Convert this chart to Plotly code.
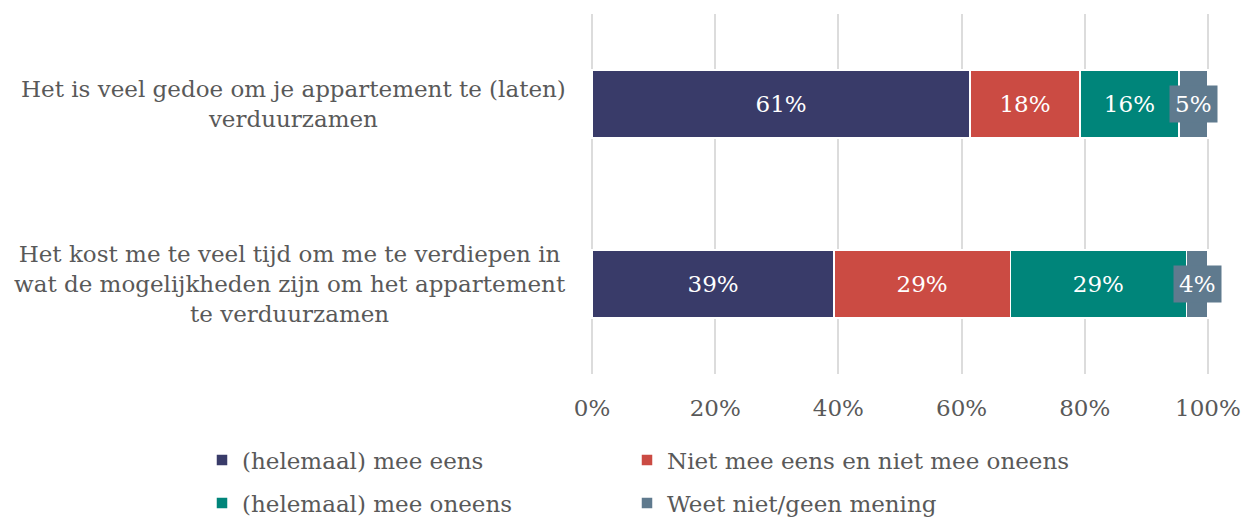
import plotly.graph_objects as go

categories = [
    "Het is veel gedoe om je appartement te (laten)<br>verduurzamen",
    "Het kost me te veel tijd om me te verdiepen in<br>wat de mogelijkheden zijn om het appartement<br>te verduurzamen",
]
series_names = [
    "(helemaal) mee eens",
    "Niet mee eens en niet mee oneens",
    "(helemaal) mee oneens",
    "Weet niet/geen mening",
]
agree = [61.4, 39.3]
neutral = [17.8, 28.6]
disagree = [16.1, 28.6]
dontknow = [4.7, 3.5]
colors = ["#393b69", "#cb4b43", "#00857a", "#5f7a8e"]
tick_vals = [0, 20, 40, 60, 80, 100]
tick_text = ["0%", "20%", "40%", "60%", "80%", "100%"]

FONT = "DejaVu Serif"
FS = 23
GREY = "#595959"
series = [agree, neutral, disagree, dontknow]
ypos = [0, 1]
legend_ids = ["legend", "legend2", "legend3", "legend4"]

fig = go.Figure()
for i, (name, vals) in enumerate(zip(series_names, series)):
    show_text = i < 3
    fig.add_trace(go.Bar(
        y=ypos, x=vals, name=name, orientation="h",
        marker=dict(color=colors[i], line=dict(color="white", width=1.5)),
        width=0.38,
        text=[f"{v:.0f}%" for v in vals] if show_text else None,
        textposition="inside" if show_text else "none",
        insidetextanchor="middle",
        textfont=dict(color="white", size=FS, family=FONT),
        legend=legend_ids[i],
        hoverinfo="x+name",
    ))

# labels for the small last segment, drawn as boxed labels
for j in range(len(ypos)):
    start = agree[j] + neutral[j] + disagree[j]
    mid = start + dontknow[j] / 2
    fig.add_annotation(
        x=mid, y=ypos[j], xref="x", yref="y",
        text=f"{dontknow[j]:.0f}%", showarrow=False,
        bgcolor=colors[3], borderpad=5,
        font=dict(color="white", size=FS, family=FONT),
    )

# category labels, centered multi-line
for j, cat in enumerate(categories):
    fig.add_annotation(
        x=0, y=ypos[j], xref="x", yref="y",
        text=cat, showarrow=False, xanchor="right", xshift=-24,
        align="center",
        font=dict(color=GREY, size=FS, family=FONT),
    )

legend_pos = [(202, 460), (627, 460), (202, 503), (627, 503)]
legends = {}
for lid, (px, py) in zip(legend_ids, legend_pos):
    legends[lid] = dict(
        orientation="h", xref="container", yref="container",
        x=px / 1243, y=1 - py / 518, xanchor="left", yanchor="middle",
        font=dict(size=FS, color=GREY, family=FONT),
        bgcolor="rgba(0,0,0,0)",
    )

fig.update_layout(
    width=1243, height=518,
    barmode="stack",
    plot_bgcolor="white", paper_bgcolor="white",
    margin=dict(l=590, r=33, t=14, b=144, autoexpand=False),
    font=dict(family=FONT, size=FS, color=GREY),
    xaxis=dict(
        range=[-0.33, 100.33], tickvals=tick_vals, ticktext=tick_text,
        showgrid=True, gridcolor="#dcdcdc", gridwidth=2,
        zeroline=False, showline=False, ticks="",
        ticklabelstandoff=18,
        tickfont=dict(size=FS, color=GREY, family=FONT),
        automargin=False,
    ),
    yaxis=dict(
        range=[1.5, -0.5], showticklabels=False, showgrid=False,
        zeroline=False, showline=False, automargin=False,
    ),
    showlegend=True,
    **legends,
)

fig.write_html(
    "out.html",
    config={"displayModeBar": False},
    post_script="document.body.style.margin='0';document.body.style.overflow='hidden';",
)
